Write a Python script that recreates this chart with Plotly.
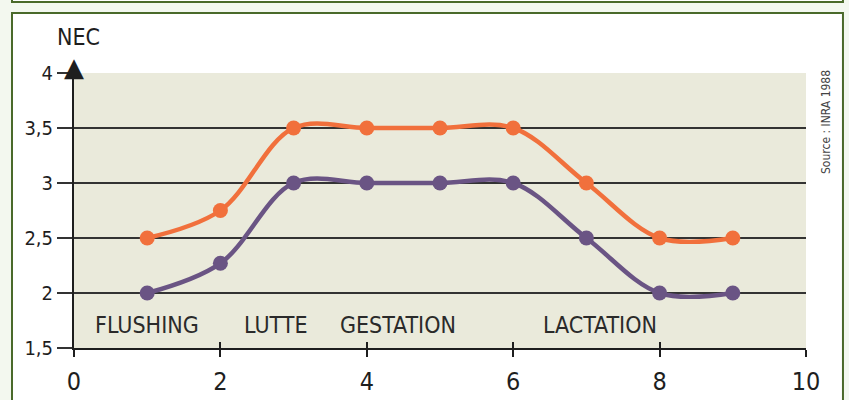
import plotly.graph_objects as go

# ---- data ----
mois = [1, 2, 3, 4, 5, 6, 7, 8, 9]
nec_haut = [2.5, 2.75, 3.5, 3.5, 3.5, 3.5, 3.0, 2.5, 2.5]
nec_bas = [2.0, 2.27, 3.0, 3.0, 3.0, 3.0, 2.5, 2.0, 2.0]
phases = ["FLUSHING", "LUTTE", "GESTATION", "LACTATION"]
phase_x = [1.0, 2.75, 4.43, 7.18]
phase_y = 1.71
x_ticks = [0, 2, 4, 6, 8, 10]
y_ticks = [1.5, 2, 2.5, 3, 3.5, 4]
y_ticklabels = ["1,5", "2", "2,5", "3", "3,5", "4"]

FONT = "DejaVu Sans Condensed, Liberation Sans Narrow, sans-serif"
ORANGE = "#f1703c"
PURPLE = "#6a5484"
DARK = "#1e1e1e"
GREEN = "#4a6a2a"

fig = go.Figure()

fig.add_trace(go.Scatter(
    x=mois, y=nec_haut, mode="lines+markers",
    line=dict(color=ORANGE, width=4.5, shape="spline", smoothing=1),
    marker=dict(color=ORANGE, size=15), cliponaxis=False, showlegend=False,
))
fig.add_trace(go.Scatter(
    x=mois, y=nec_bas, mode="lines+markers",
    line=dict(color=PURPLE, width=4.5, shape="spline", smoothing=1),
    marker=dict(color=PURPLE, size=15), cliponaxis=False, showlegend=False,
))

# phase labels
for name, px in zip(phases, phase_x):
    fig.add_annotation(x=px, y=phase_y, text=name, showarrow=False,
                       font=dict(family=FONT, size=23, color="#2a2a2a"))

# overlay axis for upward tick marks
fig.add_trace(go.Scatter(x=[0, 10], y=[1.5, 1.5], xaxis="x2", mode="lines",
                         line=dict(width=0), hoverinfo="skip", showlegend=False))

fig.update_layout(
    width=849, height=400,
    margin=dict(l=74, r=43, t=73, b=52),
    paper_bgcolor="#f3f8ef",
    plot_bgcolor="rgba(0,0,0,0)",
    xaxis=dict(range=[0, 10], tickvals=x_ticks, ticks="outside", ticklen=7,
               tickwidth=2, tickcolor=DARK, showline=True, linecolor=DARK,
               linewidth=2, showgrid=False, zeroline=False, automargin=False,
               tickfont=dict(family=FONT, size=25, color=DARK),
               ticklabelstandoff=3),
    xaxis2=dict(range=[0, 10], overlaying="x", anchor="y", side="bottom",
                tickvals=x_ticks[1:], ticks="inside", ticklen=6, tickwidth=2,
                tickcolor=DARK, showticklabels=False, showgrid=False,
                zeroline=False, showline=False, automargin=False),
    yaxis=dict(range=[1.5, 4], tickvals=y_ticks, ticktext=y_ticklabels,
               ticks="outside", ticklen=15, tickwidth=1.5, tickcolor="#333",
               showgrid=True, gridcolor="#333", gridwidth=1.5, automargin=False,
               showline=True, linecolor=DARK, linewidth=2, zeroline=False,
               tickfont=dict(family=FONT, size=20, color=DARK)),
    font=dict(family=FONT),
    shapes=[
        dict(type="rect", xref="paper", yref="paper", x0=-0.0847, x1=1.0505,
             y0=1.258, y1=1.5, line=dict(color=GREEN, width=2),
             fillcolor="white", layer="below"),
        dict(type="rect", xref="paper", yref="paper", x0=-0.0847, x1=1.0505,
             y0=-0.3, y1=1.218, line=dict(color=GREEN, width=2),
             fillcolor="white", layer="below"),
        dict(type="rect", xref="x domain", yref="y domain", x0=0, x1=1,
             y0=0, y1=1, line=dict(width=0), fillcolor="#eaeadb",
             layer="below"),
    ],
)

# arrow head on the y axis
fig.add_annotation(x=0, y=4, text="▲", showarrow=False, xanchor="center",
                   yanchor="middle", yshift=6,
                   font=dict(family="DejaVu Sans", size=26, color=DARK))
fig.add_annotation(xref="paper", yref="paper", x=(78 - 74) / 732,
                   y=(348 - 37) / 275, text="NEC", showarrow=False,
                   xanchor="center", yanchor="middle",
                   font=dict(family=FONT, size=23, color=DARK))
fig.add_annotation(xref="paper", yref="paper", x=(826 - 74) / 732,
                   y=(348 - 122) / 275, text="Source : INRA 1988",
                   textangle=-90, showarrow=False,
                   xanchor="center", yanchor="middle",
                   font=dict(family=FONT, size=12, color="#444"))

fig.write_html("out.html", config={"displayModeBar": False},
               post_script="document.body.style.margin='0';")
